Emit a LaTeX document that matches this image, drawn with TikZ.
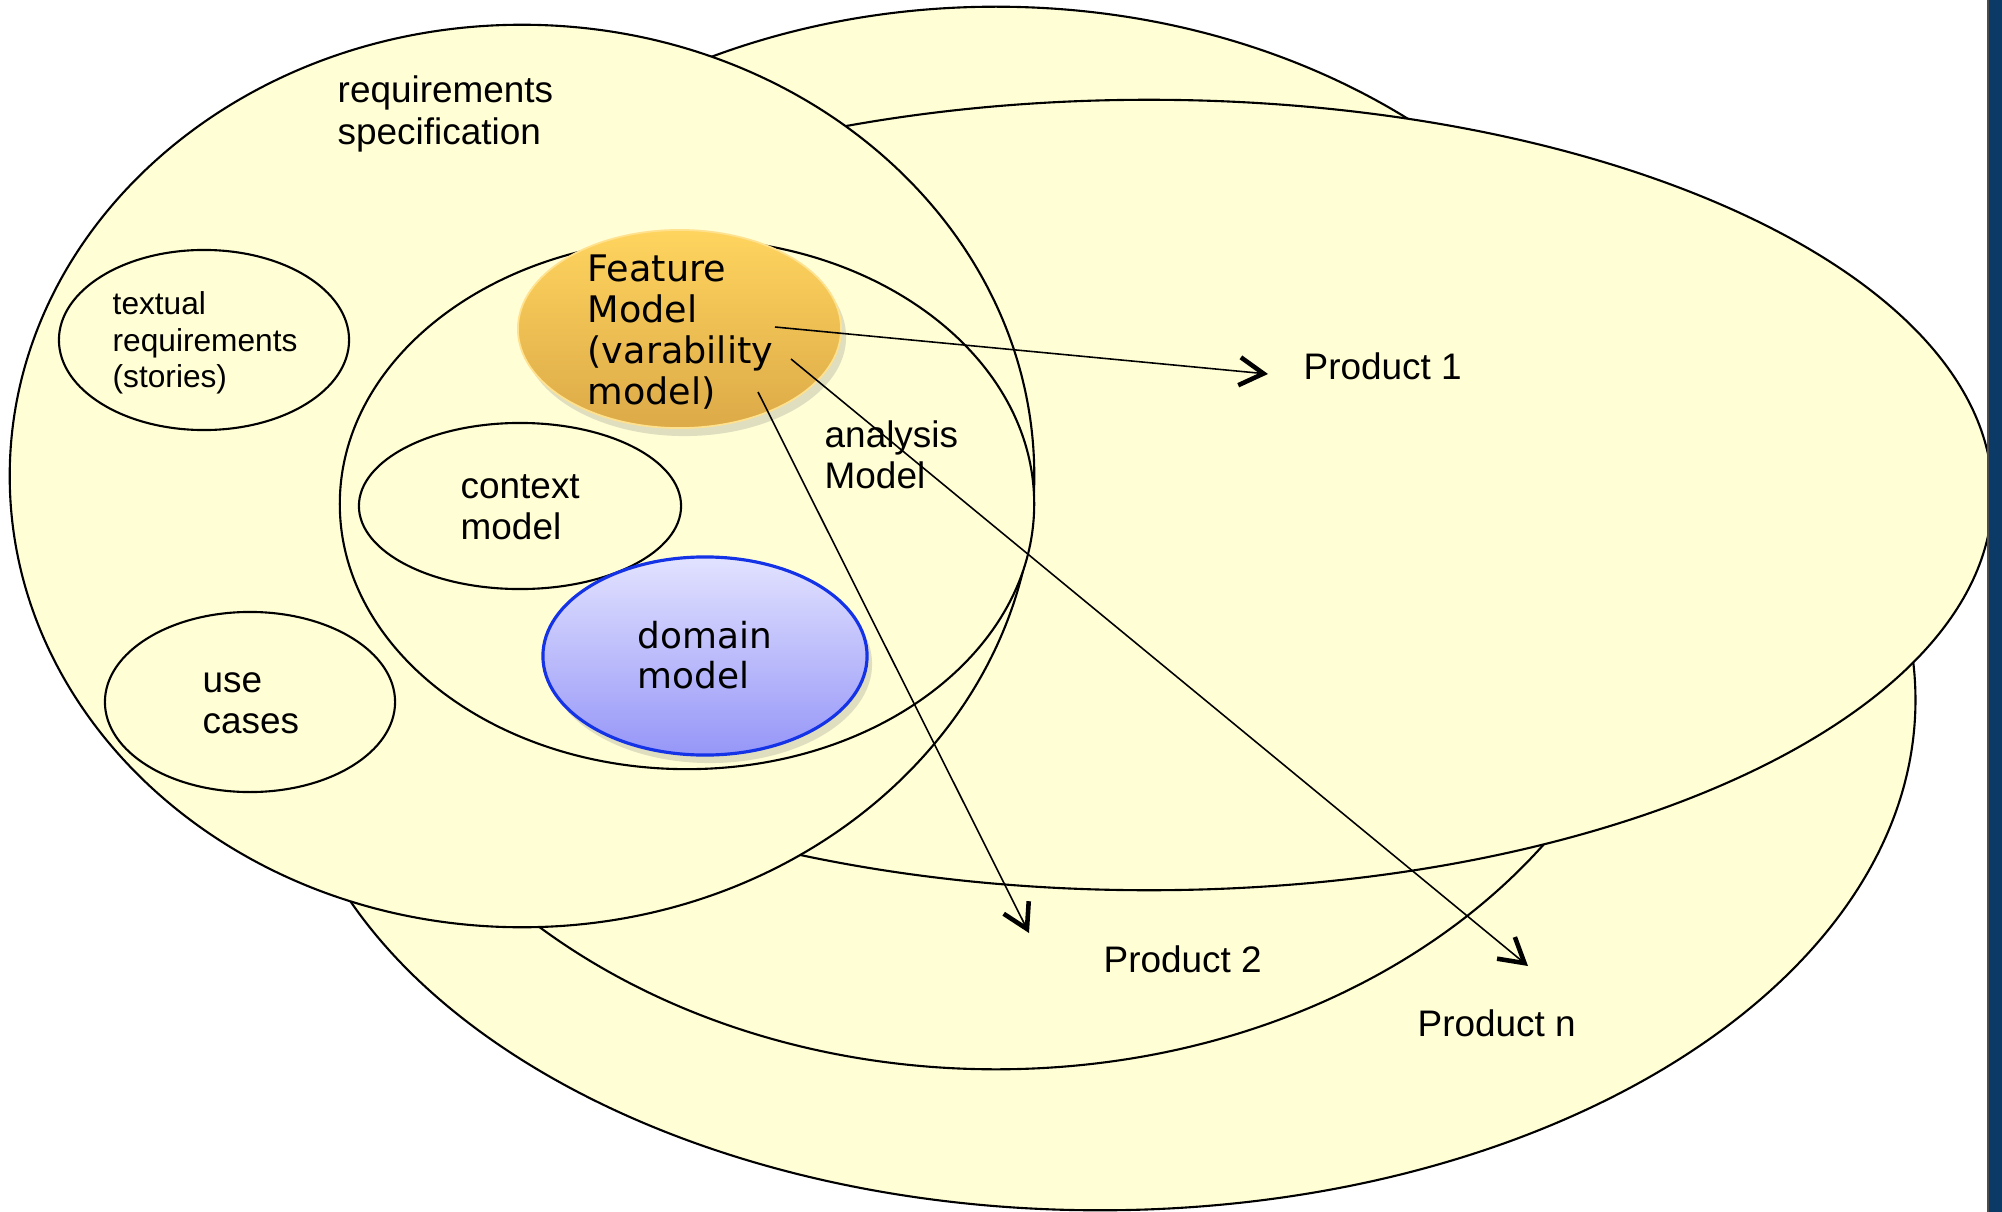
\documentclass[tikz,border=0pt]{standalone}
\usepackage{fontspec}
\setmainfont{Liberation Sans}
\newfontfamily\verd{DejaVu Sans}
\usetikzlibrary{shapes.geometric,arrows.meta,shadows}
\definecolor{paleyellow}{HTML}{FFFED5}
\definecolor{fmtop}{HTML}{FFD45E}
\definecolor{fmbot}{HTML}{DCAA48}
\definecolor{dmtop}{HTML}{E2E2FF}
\definecolor{dmbot}{HTML}{9696F8}
\definecolor{dmline}{HTML}{1432E6}
\definecolor{barblue}{HTML}{0B3A66}

\begin{document}
\begin{tikzpicture}[x=0.01cm, y=-0.01cm,
	blob/.style = {draw, ellipse, fill=paleyellow, line width=0.6pt, inner sep=0pt},
	txt/.style = {anchor=west, align=left, inner sep=0pt, font=\fontsize{10.5}{11.7}\selectfont},
	small/.style = {txt, font=\fontsize{9}{10.4}\selectfont},
	verdtxt/.style = {txt, font=\verd\fontsize{10.4}{11.6}\selectfont},
	toprod/.style = {-{Straight Barb[length=2.4mm, width=2.8mm, line width=1.3pt]}, line width=0.45pt}]
	\useasboundingbox (0,0) rectangle (2002,1212);
	\fill[white] (0,0) rectangle (2002,1212);
	% product ellipses, back to front
	\node[blob, minimum width=16.30cm, minimum height=10.20cm] (prodn) at (1100,700) {};
	\node[blob, minimum width=13.40cm, minimum height=10.62cm] (prod2) at (996,538) {};
	\node[blob, minimum width=16.86cm, minimum height=7.90cm] (prod1) at (1149,495) {};
	% requirements specification
	\node[blob, minimum width=10.24cm, minimum height=9.02cm] (req) at (522,476) {};
	\node[blob, minimum width=2.90cm, minimum height=1.80cm] (textual) at (204,340) {};
	\node[blob, minimum width=2.90cm, minimum height=1.80cm] (usec) at (250,702) {};
	\node[blob, minimum width=6.94cm, minimum height=5.30cm] (analysis) at (687,504) {};
	\node[blob, minimum width=3.22cm, minimum height=1.66cm] (context) at (520,506) {};
	\node[ellipse, inner sep=0pt, minimum width=3.24cm, minimum height=1.98cm,
		top color=dmtop, bottom color=dmbot, draw=dmline, line width=0.9pt,
		drop shadow={shadow xshift=0.5mm, shadow yshift=-0.8mm, opacity=0.25}] (domain) at (705,656) {};
	\node[ellipse, inner sep=0pt, minimum width=3.23cm, minimum height=1.98cm,
		top color=fmtop, bottom color=fmbot, draw=fmtop!70!white, line width=0.5pt,
		drop shadow={shadow xshift=0.5mm, shadow yshift=-0.8mm, opacity=0.25}] (feature) at (679.5,329) {};
	% labels
	\node[txt] (reqlbl) at (337,114) {requirements\\specification};
	\node[small] (textlbl) at (112,343) {textual\\requirements\\(stories)};
	\node[txt] (uselbl) at (202,703) {use\\cases};
	\node[txt] (anlbl) at (824,455) {analysis\\Model};
	\node[txt] (ctxlbl) at (460,507) {context\\model};
	\node[verdtxt] (fmlbl) at (587,332) {Feature\\Model\\(varability\\model)};
	\node[verdtxt, font=\verd\fontsize{10.2}{11.4}\selectfont] (dmlbl) at (637,655) {domain\\model};
	\node[txt] (p1) at (1303,366) {Product 1};
	\node[txt] (p2) at (1103,959) {Product 2};
	\node[txt] (pn) at (1417,1023) {Product n};
	% derivation arrows
	\coordinate (fm1) at (775,327);
	\coordinate (fm2) at (791,359);
	\coordinate (fm3) at (758,392);
	\coordinate (to1) at (1268,374);
	\coordinate (to2) at (1029,933);
	\coordinate (ton) at (1528,966);
	\draw[toprod] (fm1) -- (to1);
	\draw[toprod] (fm2) -- (ton);
	\draw[toprod] (fm3) -- (to2);
	% slide edge
	\fill[barblue] (1988,0) rectangle (2002,1212);
	\draw[black!70, line width=0.4pt] (1988,0) -- (1988,1212);
\end{tikzpicture}
\end{document}
